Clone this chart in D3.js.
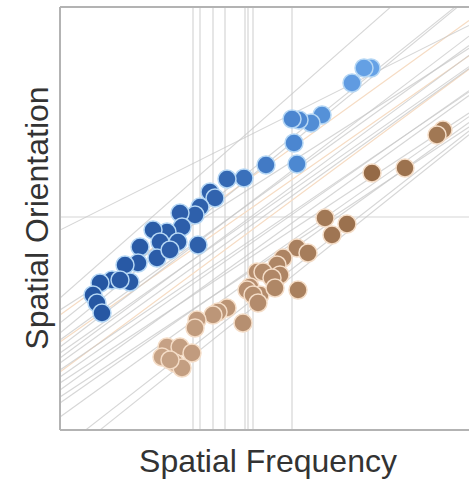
<!DOCTYPE html>
<html>
<head>
<meta charset="utf-8">
<script src="https://cdn.jsdelivr.net/npm/d3@7.9.0/dist/d3.min.js"></script>
<style>
  html, body { margin: 0; padding: 0; background: #fff; }
  svg { display: block; }
  text { font-family: "Liberation Sans", Arial, sans-serif; fill: #333; }
</style>
</head>
<body>
<div id="chart"></div>
<script>
// ---- data (arbitrary units) ----
const blueX = [31.1, 30.4, 29.2, 26.2, 25.1, 23.9, 23.2, 23.4, 23.7, 20.6, 18.4, 16.7,
  15.0, 15.5, 14.0, 13.5, 12.0, 12.2, 10.7, 9.3, 13.8, 11.8, 10.0, 9.7, 8.0, 11.0,
  7.8, 6.5, 7.0, 5.2, 4.0, 6.0, 3.3, 3.7, 4.2];
const blueY = [36.2, 36.2, 34.7, 31.5, 30.7, 31.0, 31.1, 28.7, 26.6, 26.5, 25.2, 25.1,
  23.8, 23.2, 22.3, 21.5, 21.7, 20.3, 19.8, 20.0, 18.5, 18.8, 18.8, 17.2, 18.3, 18.0,
  16.7, 16.5, 14.8, 15.0, 14.7, 15.0, 13.5, 12.7, 11.7];

const brownX = [26.5, 28.7, 27.2, 23.7, 24.8, 22.3, 21.7, 19.7, 20.3, 22.0, 21.2, 19.0,
  18.7, 20.0, 21.5, 23.8, 19.3, 19.8, 16.7, 15.8, 15.3, 18.3, 13.7, 13.5, 10.7, 12.0,
  13.2, 10.2, 11.5, 12.2, 11.0, 31.2, 34.5, 38.3, 37.7];
const brownY = [21.2, 20.6, 19.5, 18.2, 17.7, 17.2, 16.5, 15.8, 15.8, 15.5, 15.2, 14.3,
  14.0, 13.5, 14.2, 14.0, 13.5, 12.7, 12.2, 11.8, 11.5, 10.7, 11.0, 10.2, 8.3, 8.3,
  7.7, 7.3, 6.7, 6.2, 7.0, 25.7, 26.2, 30.0, 29.5];

// fitted lines: y = intercept + slope * x
const lineIntercepts = [20.0, 13.2, 12.0, 10.7, 9.7, 9.0, 8.3, 7.7, 7.2,
  6.7, 6.0, 5.3, 4.7, 4.0, 3.3, 2.7, 1.3, -2.0, -3.2];
const lineSlopes = [0.50, 0.88, 0.64, 0.80, 0.82, 0.72, 0.76, 0.70, 0.74,
  0.72, 0.68, 0.70, 0.66, 0.72, 0.66, 0.70, 0.72, 0.78, 0.80];
const orangeIntercepts = [11.5, 8.8, 5.8];
const orangeSlopes = [0.72, 0.70, 0.74];

const vLines = [13.3, 14.0, 15.3, 16.5, 18.5, 18.8, 19.3, 23.2];
const hLines = [21.3];

const xLabel = "Spatial Frequency";
const yLabel = "Spatial Orientation";

// ---- layout ----
const width = 469;
const height = 479;
const plot = { left: 60, right: 469, top: 7, bottom: 430 };

const x = d3.scaleLinear().domain([0, 40.9]).range([plot.left, plot.right]);
const y = d3.scaleLinear().domain([0, 42.3]).range([plot.bottom, plot.top]);

const blueColor = d3.scaleLinear()
  .domain([3, 15, 23, 31])
  .range(["#2556a2", "#2f61ac", "#4a85cf", "#66a2e6"]);
const brownColor = d3.scaleLinear()
  .domain([10, 20, 31, 38])
  .range(["#c7a387", "#b38b6b", "#956a46", "#a27955"]);

const svg = d3.select("#chart").append("svg")
  .attr("width", width)
  .attr("height", height);

svg.append("defs").append("clipPath").attr("id", "clip")
  .append("rect")
  .attr("x", plot.left).attr("y", plot.top)
  .attr("width", plot.right - plot.left).attr("height", plot.bottom - plot.top);

const g = svg.append("g").attr("clip-path", "url(#clip)");

// reference lines
g.selectAll("line.v").data(vLines).join("line")
  .attr("class", "v")
  .attr("x1", (d) => x(d)).attr("x2", (d) => x(d))
  .attr("y1", plot.top).attr("y2", plot.bottom)
  .attr("stroke", "#d6d6d6").attr("stroke-width", 1.2);

g.selectAll("line.h").data(hLines).join("line")
  .attr("class", "h")
  .attr("x1", plot.left).attr("x2", plot.right)
  .attr("y1", (d) => y(d)).attr("y2", (d) => y(d))
  .attr("stroke", "#d6d6d6").attr("stroke-width", 1.2);

// regression lines
const [x0, x1] = x.domain();
g.selectAll("line.fitO").data(d3.range(orangeIntercepts.length)).join("line")
  .attr("class", "fitO")
  .attr("x1", x(x0)).attr("x2", x(x1))
  .attr("y1", (i) => y(orangeIntercepts[i] + orangeSlopes[i] * x0))
  .attr("y2", (i) => y(orangeIntercepts[i] + orangeSlopes[i] * x1))
  .attr("stroke", "#f6dcc4").attr("stroke-width", 1.2);

g.selectAll("line.fit").data(d3.range(lineIntercepts.length)).join("line")
  .attr("class", "fit")
  .attr("x1", x(x0)).attr("x2", x(x1))
  .attr("y1", (i) => y(lineIntercepts[i] + lineSlopes[i] * x0))
  .attr("y2", (i) => y(lineIntercepts[i] + lineSlopes[i] * x1))
  .attr("stroke", "#c8c8c8").attr("stroke-opacity", 0.75).attr("stroke-width", 1.1);

// points
const brown = brownX.map((v, i) => ({ x: v, y: brownY[i] }));
const blue = blueX.map((v, i) => ({ x: v, y: blueY[i] }));

g.append("g").selectAll("circle").data(brown).join("circle")
  .attr("cx", (d) => x(d.x)).attr("cy", (d) => y(d.y)).attr("r", 9)
  .attr("fill", (d) => brownColor(d.x))
  .attr("stroke", "#f4dcc6").attr("stroke-width", 1.5);

g.append("g").selectAll("circle").data(blue).join("circle")
  .attr("cx", (d) => x(d.x)).attr("cy", (d) => y(d.y)).attr("r", 9)
  .attr("fill", (d) => blueColor(d.x))
  .attr("stroke", "#b4d6f4").attr("stroke-width", 1.5);

// frame
svg.append("line")
  .attr("x1", plot.left).attr("x2", plot.right).attr("y1", plot.top).attr("y2", plot.top)
  .attr("stroke", "#b3b3b3").attr("stroke-width", 2);
svg.append("line")
  .attr("x1", plot.left).attr("x2", plot.right).attr("y1", plot.bottom).attr("y2", plot.bottom)
  .attr("stroke", "#b3b3b3").attr("stroke-width", 2);
svg.append("line")
  .attr("x1", plot.left).attr("x2", plot.left).attr("y1", plot.top).attr("y2", plot.bottom)
  .attr("stroke", "#b3b3b3").attr("stroke-width", 2);

// axis titles
svg.append("text")
  .attr("x", 268).attr("y", 472)
  .attr("text-anchor", "middle")
  .style("font-size", "32px")
  .text(xLabel);

svg.append("text")
  .attr("transform", "translate(48,218) rotate(-90)")
  .attr("text-anchor", "middle")
  .style("font-size", "32px")
  .text(yLabel);
</script>
</body>
</html>
